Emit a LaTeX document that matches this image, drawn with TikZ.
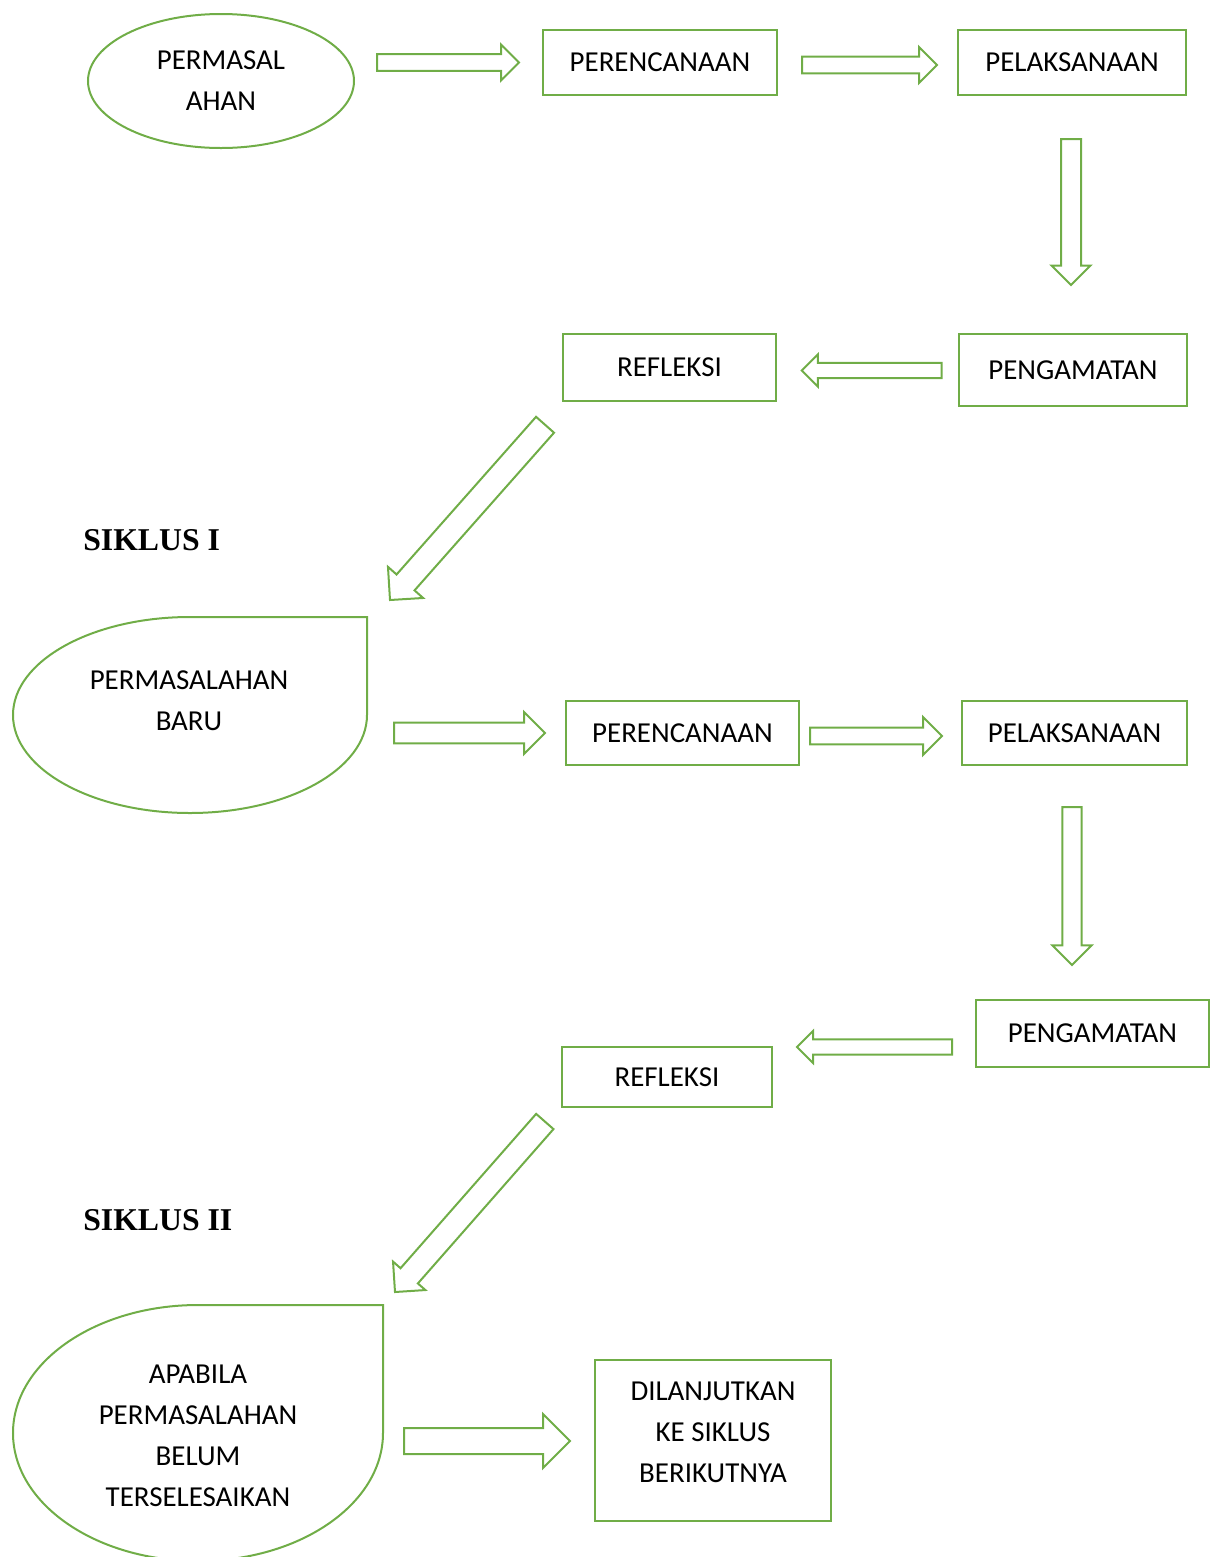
\documentclass[tikz,border=0pt]{standalone}
\usepackage{fontspec}
\setmainfont{Carlito}
\newfontfamily\siklusfont{Liberation Serif}
\usetikzlibrary{shapes.geometric,shapes.arrows}
\definecolor{daungreen}{RGB}{112,173,71}

\begin{document}
\begin{tikzpicture}[x=0.75pt,y=0.75pt,yscale=-1,xscale=1,
  kotak/.style={draw=daungreen, line width=1.5pt, inner sep=0pt, align=center, font={\fontsize{21.7}{30.75}\selectfont}},
  tulisan/.style={inner sep=0pt, align=center, font={\fontsize{21.7}{30.75}\selectfont}},
  panah/.style n args={3}{single arrow, draw=daungreen, line width=1.5pt, inner xsep=0pt, inner ysep=#2, outer sep=0pt, anchor=tip, minimum height=#1, single arrow head extend=#3},
  siklus/.style={anchor=west, inner sep=0pt, font={\siklusfont\bfseries\fontsize{23.8}{28}\selectfont}}]
\useasboundingbox (0,0) rectangle (1210,1557);

%Shape: Ellipse [masalah]
\node [kotak, ellipse, minimum width=199.5pt, minimum height=100.5pt] (masalah) at (221,81) {PERMASAL\\AHAN};
%Shape: Rectangle [rencanaA]
\node [kotak, minimum width=175.5pt, minimum height=48.75pt] (rencanaA) at (660,62.5) {PERENCANAAN};
%Shape: Rectangle [laksanaA]
\node [kotak, minimum width=171pt, minimum height=48.75pt] (laksanaA) at (1072,62.5) {PELAKSANAAN};
%Shape: Rectangle [amatA]
\node [kotak, minimum width=171pt, minimum height=54pt] (amatA) at (1073,370) {PENGAMATAN};
%Shape: Rectangle [refleksiA]
\node [kotak, minimum width=159.75pt, minimum height=50.25pt] (refleksiA) at (669.5,367.5) {REFLEKSI};

%Shape: Teardrop [baru]
\draw [draw=daungreen, line width=1.5pt] (367,617) -- (367,715) .. controls (367,769.1) and (287.8,813) .. (190,813) .. controls (92.2,813) and (13,769.1) .. (13,715) .. controls (13,660.9) and (92.2,617) .. (190,617) -- cycle ;
%Shape: Rectangle [rencanaB]
\node [kotak, minimum width=174.75pt, minimum height=48pt] (rencanaB) at (682.5,733) {PERENCANAAN};
%Shape: Rectangle [laksanaB]
\node [kotak, minimum width=168.75pt, minimum height=48pt] (laksanaB) at (1074.5,733) {PELAKSANAAN};
%Shape: Rectangle [amatB]
\node [kotak, minimum width=174.75pt, minimum height=50.25pt] (amatB) at (1092.5,1033.5) {PENGAMATAN};
%Shape: Rectangle [refleksiB]
\node [kotak, minimum width=157.5pt, minimum height=45pt] (refleksiB) at (667,1077) {REFLEKSI};

%Shape: Teardrop [belum]
\draw [draw=daungreen, line width=1.5pt] (383,1305) -- (383,1433) .. controls (383,1503.7) and (300.2,1561) .. (198,1561) .. controls (95.8,1561) and (13,1503.7) .. (13,1433) .. controls (13,1362.3) and (95.8,1305) .. (198,1305) -- cycle ;
%Shape: Rectangle [lanjut]
\node [kotak, minimum width=177pt, minimum height=120.75pt] (lanjut) at (713,1440.5) {};

%Block Arrows (placed by their tips)
\node [panah={106.5pt}{5.6pt}{7.1pt}] (pA1) at (519,62.5) {};
\node [panah={101.25pt}{5.6pt}{7.1pt}] (pA2) at (937,65) {};
\node [panah={109.5pt}{6.75pt}{7.1pt}, rotate=-90] (pD1) at (1071,285) {};
\node [panah={105pt}{4.9pt}{6.4pt}, rotate=180] (pL1) at (801.7,370.5) {};
\node [panah={175.5pt}{8.25pt}{8.6pt}, rotate=228.5] (pG1) at (390,600) {};
\node [panah={113.25pt}{7.1pt}{7.9pt}] (pA3) at (545,733) {};
\node [panah={99pt}{5.6pt}{7.9pt}] (pA4) at (942,736) {};
\node [panah={118.5pt}{6.4pt}{7.5pt}, rotate=-90] (pD2) at (1072,965) {};
\node [panah={116.25pt}{4.9pt}{6.4pt}, rotate=180] (pL2) at (797,1047) {};
\node [panah={170.25pt}{7.9pt}{7.5pt}, rotate=228.7] (pG2) at (395,1292) {};
\node [panah={124.5pt}{9pt}{10.5pt}] (pA5) at (570,1441) {};

% Text Node
\node [tulisan] (baruTeks) at (189,701) {PERMASALAHAN\\BARU};
% Text Node
\node [tulisan] (belumTeks) at (198,1436) {APABILA\\PERMASALAHAN\\BELUM\\TERSELESAIKAN};
% Text Node
\node [tulisan] (lanjutTeks) at (713,1432) {DILANJUTKAN\\KE SIKLUS\\BERIKUTNYA};
% Text Node
\node [siklus] (siklusI) at (83,540) {SIKLUS I};
% Text Node
\node [siklus] (siklusII) at (83,1220) {SIKLUS II};

\end{tikzpicture}
\end{document}
